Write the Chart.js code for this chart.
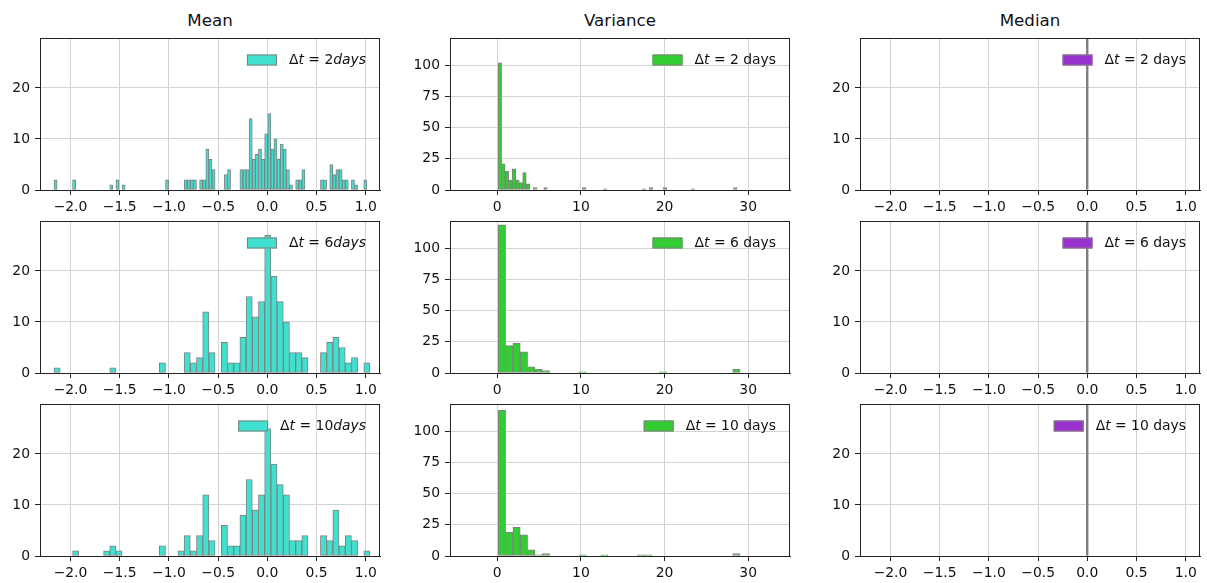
<!DOCTYPE html>
<html>
<head>
<meta charset="utf-8">
<title>Mean / Variance / Median histograms</title>
<script src="https://cdn.jsdelivr.net/npm/chart.js@4.4.0/dist/chart.umd.min.js"></script>
<style>
  body { margin: 0; background: #fff; width: 1207px; height: 583px; overflow: hidden; position: relative; font-family: "DejaVu Sans", sans-serif; }
  .panel { position: absolute; }
  .title { position: absolute; top: 10px; width: 340px; line-height: 20px; font-size: 16.7px; color: #111; text-align: center; }
</style>
</head>
<body>
<div class="title" style="left:40px">Mean</div>
<div class="title" style="left:450px">Variance</div>
<div class="title" style="left:860px">Median</div>

<canvas id="mean2" class="panel" width="390" height="190" style="left:0px;top:30px"></canvas>
<canvas id="var2" class="panel" width="390" height="190" style="left:410px;top:30px"></canvas>
<canvas id="med2" class="panel" width="390" height="190" style="left:820px;top:30px"></canvas>
<canvas id="mean6" class="panel" width="390" height="190" style="left:0px;top:213px"></canvas>
<canvas id="var6" class="panel" width="390" height="190" style="left:410px;top:213px"></canvas>
<canvas id="med6" class="panel" width="390" height="190" style="left:820px;top:213px"></canvas>
<canvas id="mean10" class="panel" width="390" height="190" style="left:0px;top:396px"></canvas>
<canvas id="var10" class="panel" width="390" height="190" style="left:410px;top:396px"></canvas>
<canvas id="med10" class="panel" width="390" height="190" style="left:820px;top:396px"></canvas>

<script>
// Time lags shown in the rows
const lags = [2, 6, 10];

// Mean histograms: bin start, bin width and counts per bin
const meanStart = -2.168;
const meanWidth2 = 0.031485;   // 2 days uses bins half as wide
const meanWidth = 0.06297;
const meanCounts2 = [
  2, 0, 0, 0, 0, 0, 2, 0, 0, 0,
  0, 0, 0, 0, 0, 0, 0, 0, 1, 0,
  2, 0, 1, 0, 0, 0, 0, 0, 0, 0,
  0, 0, 0, 0, 0, 0, 2, 0, 0, 0,
  0, 0, 2, 2, 2, 2, 0, 2, 2, 8,
  6, 4, 0, 0, 0, 3, 4, 0, 0, 0,
  4, 4, 4, 14, 6, 7, 8, 6, 11, 15,
  8, 10, 6, 9, 8, 4, 1, 0, 2, 2,
  4, 0, 0, 0, 0, 0, 2, 2, 0, 5,
  3, 4, 4, 2, 2, 0, 2, 1, 0, 0,
  2
];
const meanCounts6 = [
  1, 0, 0, 0, 0, 0, 0, 0, 0, 1,
  0, 0, 0, 0, 0, 0, 0, 2, 0, 0,
  0, 4, 2, 3, 12, 4, 0, 6, 2, 2,
  7, 15, 11, 14, 27, 19, 14, 10, 4, 4,
  3, 0, 0, 4, 6, 7, 5, 2, 3, 0,
  2
];
const meanCounts10 = [
  0, 0, 0, 1, 0, 0, 0, 0, 1, 2,
  1, 0, 0, 0, 0, 0, 0, 2, 0, 0,
  1, 4, 1, 4, 12, 3, 0, 6, 2, 2,
  8, 15, 9, 12, 25, 18, 14, 12, 3, 3,
  4, 0, 0, 4, 3, 9, 2, 4, 3, 0,
  1
];

// Variance histograms
const varStart2 = 0.1;
const varWidth2 = 0.42;
const varCounts2 = [
  102, 21, 15, 8, 17, 8, 6, 14, 5, 0,
  2, 0, 0, 2, 0, 0, 0, 0, 0, 0,
  0, 0, 0, 0, 2, 0, 0, 0, 0, 0,
  1, 0, 0, 0, 0, 0, 0, 0, 0, 0,
  0, 1, 0, 2, 0, 0, 0, 2, 0, 0,
  0, 0, 0, 0, 0, 1, 0, 0, 0, 0,
  0, 0, 0, 0, 0, 0, 0, 2
];
const varStart = 0.12;
const varWidth = 0.876;
const varCounts6 = [
  119, 22, 24, 17, 5, 3, 2, 0, 0, 0,
  0, 1, 0, 0, 0, 0, 0, 0, 0, 0,
  0, 0, 1, 0, 0, 0, 0, 0, 0, 0,
  0, 0, 3
];
const varCounts10 = [
  117, 19, 23, 17, 5, 1, 2, 0, 0, 0,
  0, 1, 0, 0, 1, 0, 0, 0, 0, 1,
  1, 0, 0, 0, 0, 0, 0, 0, 0, 0,
  0, 0, 2
];

// Median: every sample falls in one very thin bin at zero
const medianValue = [0];
const medianCount = [209];

// Axis ranges and tick steps
const meanRange = [-2.31, 1.145];
const varRange = [-5.65, 35];
const countMax = 29.8;
const varCountMax = 122;

const FONT = '"DejaVu Sans"';
const INK = '#111';

// Turn bin counts into {x, y} points at the bin centres
function binPoints(start, width, counts) {
  return counts.map((c, i) => ({ x: start + width * (i + 0.5), y: c }));
}

function signed(v, digits) {
  const s = Math.abs(v) < 1e-9 ? (0).toFixed(digits) : v.toFixed(digits);
  return s.replace('-', '\u2212');
}

// Draws the four spines and the legend inside the plot area
const frameLegend = {
  id: 'frameLegend',
  afterDraw(chart, args, opts) {
    const ctx = chart.ctx;
    const area = chart.chartArea;
    ctx.save();
    ctx.strokeStyle = '#222';
    ctx.lineWidth = 1;
    ctx.strokeRect(area.left + 0.5, area.top + 0.5, area.width - 1, area.height);

    const size = 13.9;
    const widths = opts.pieces.map(p => {
      ctx.font = (p.it ? 'italic ' : '') + size + 'px ' + FONT;
      return ctx.measureText(p.t).width;
    });
    const total = widths.reduce((a, b) => a + b, 0);
    let x = area.right - 14 - total;
    const cy = area.top + 22;

    // legend handle
    ctx.fillStyle = opts.color;
    ctx.fillRect(x - 42, cy - 5.5, 30, 11);
    ctx.strokeStyle = 'gray';
    ctx.strokeRect(x - 41.5, cy - 5, 29, 10);

    ctx.fillStyle = INK;
    ctx.textBaseline = 'middle';
    ctx.textAlign = 'left';
    opts.pieces.forEach((p, i) => {
      ctx.font = (p.it ? 'italic ' : '') + size + 'px ' + FONT;
      ctx.fillText(p.t, x, cy);
      x += widths[i];
    });
    ctx.restore();
  }
};

function makeHist(id, cfg) {
  const ctx = document.getElementById(id).getContext('2d');
  const dataset = {
    data: cfg.points,
    backgroundColor: cfg.color,
    borderColor: 'gray',
    borderWidth: 1,
    borderSkipped: false,
    barPercentage: 1,
    categoryPercentage: 1,
    grouped: false,
    clip: 0
  };
  if (cfg.thickness) dataset.barThickness = cfg.thickness;

  const tickFont = { family: FONT, size: 13.9 };
  return new Chart(ctx, {
    type: 'bar',
    data: { datasets: [dataset] },
    options: {
      responsive: false,
      animation: false,
      layout: { padding: { top: 8, right: 10, left: 0, bottom: 0 } },
      plugins: {
        legend: { display: false },
        tooltip: { enabled: false },
        frameLegend: { pieces: cfg.legend, color: cfg.color }
      },
      scales: {
        x: {
          type: 'linear',
          min: cfg.xRange[0],
          max: cfg.xRange[1],
          offset: false,
          z: 1,
          grid: { color: '#d3d3d3', offset: false, tickColor: '#222', tickLength: 5 },
          border: { display: true, color: '#222' },
          ticks: {
            stepSize: cfg.xStep,
            includeBounds: false,
            autoSkip: false,
            maxRotation: 0,
            padding: 4,
            color: INK,
            font: tickFont,
            callback: v => signed(v, cfg.xDigits)
          },
          afterFit: s => { s.height = 30; s.paddingLeft = 0; s.paddingRight = 0; }
        },
        y: {
          min: 0,
          max: cfg.yMax,
          z: 1,
          grid: { color: '#d3d3d3', tickColor: '#222', tickLength: 5 },
          border: { display: true, color: '#222' },
          ticks: {
            stepSize: cfg.yStep,
            includeBounds: false,
            padding: 5,
            color: INK,
            font: tickFont,
            callback: v => String(v)
          },
          afterFit: s => { s.width = 40; s.paddingTop = 0; s.paddingBottom = 0; }
        }
      }
    },
    plugins: [frameLegend]
  });
}

function meanLegend(n) {
  return [{ t: '\u0394' }, { t: 't', it: true }, { t: ' = ' }, { t: String(n) }, { t: 'days', it: true }];
}
function plainLegend(n) {
  return [{ t: '\u0394' }, { t: 't', it: true }, { t: ' = ' + n + ' days' }];
}

const meanSets = [
  binPoints(meanStart, meanWidth2, meanCounts2),
  binPoints(meanStart, meanWidth, meanCounts6),
  binPoints(meanStart, meanWidth, meanCounts10)
];
const varSets = [
  binPoints(varStart2, varWidth2, varCounts2),
  binPoints(varStart, varWidth, varCounts6),
  binPoints(varStart, varWidth, varCounts10)
];

lags.forEach((lag, row) => {
  makeHist('mean' + lag, {
    points: meanSets[row], color: '#40E0D0', legend: meanLegend(lag),
    xRange: meanRange, xStep: 0.5, xDigits: 1, yMax: countMax, yStep: 10
  });
  makeHist('var' + lag, {
    points: varSets[row], color: '#32CD32', legend: plainLegend(lag),
    xRange: varRange, xStep: 10, xDigits: 0, yMax: varCountMax, yStep: 25
  });
  makeHist('med' + lag, {
    points: medianValue.map((v, i) => ({ x: v, y: medianCount[i] })),
    color: '#9932CC', legend: plainLegend(lag), thickness: 2,
    xRange: meanRange, xStep: 0.5, xDigits: 1, yMax: countMax, yStep: 10
  });
});
</script>
</body>
</html>
